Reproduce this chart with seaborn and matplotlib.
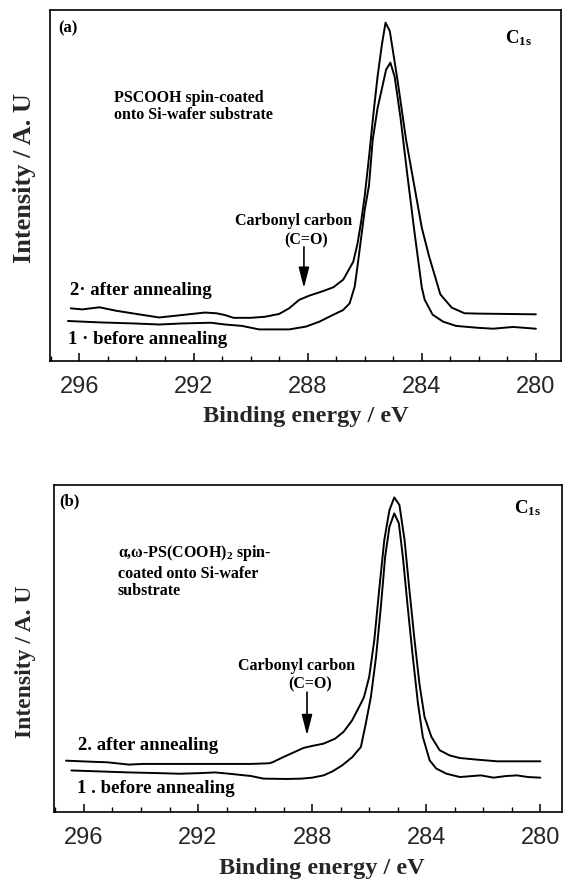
import numpy as np
import pandas as pd
import matplotlib
matplotlib.use("Agg")
import matplotlib.pyplot as plt
from matplotlib.ticker import MultipleLocator
import seaborn as sns

# ---------------- data ----------------
tick_values = [296, 292, 288, 284, 280]
tick_labels = ["296", "292", "288", "284", "280"]

# panel (a): PSCOOH
a_after_x = [296.3, 295.9, 295.3, 294.7, 294.0, 293.2, 292.4, 291.6, 291.2, 290.9, 290.6,
             290.0, 289.5, 289.0, 288.65, 288.3, 287.95, 287.5, 287.1, 286.75, 286.4,
             286.25, 286.12, 286.0, 285.85, 285.7, 285.55, 285.4, 285.27, 285.12, 284.85,
             284.55, 284.22, 284.0, 283.75, 283.35, 282.95, 282.5, 282.0, 281.0, 280.0]
a_after_y = [15.0, 14.7, 15.3, 14.3, 13.4, 12.4, 13.1, 13.8, 13.6, 13.1, 12.3,
             12.3, 12.6, 13.4, 15.0, 17.4, 18.6, 19.8, 21.0, 23.2, 28.3,
             33.5, 40.0, 47.0, 58.0, 70.0, 81.0, 90.0, 96.4, 94.0, 80.0,
             63.0, 48.0, 38.0, 30.0, 19.0, 15.2, 13.6, 13.5, 13.4, 13.3]

a_before_x = [296.4, 295.3, 294.1, 293.2, 292.4, 291.4, 290.9, 290.3, 289.7, 289.1, 288.65,
              288.06, 287.59, 287.12, 286.76, 286.53, 286.35, 286.24, 286.12, 286.0, 285.85,
              285.72, 285.55, 285.4, 285.25, 285.1, 284.95, 284.74, 284.52, 284.26, 284.0,
              283.9, 283.62, 283.25, 282.8, 282.1, 281.5, 280.8, 280.0]
a_before_y = [11.4, 11.0, 10.7, 10.4, 10.7, 10.9, 10.4, 10.0, 9.0, 9.0, 9.0,
              9.8, 11.2, 13.1, 14.5, 16.4, 21.2, 27.8, 35.4, 43.0, 50.0,
              63.0, 72.0, 77.5, 83.0, 85.0, 81.0, 69.0, 54.0, 37.0, 21.0,
              17.5, 13.2, 11.2, 10.0, 9.5, 9.2, 9.7, 9.2]

# panel (b): alpha,omega-PS(COOH)2
b_after_x = [296.63, 295.81, 295.18, 294.43, 293.92, 292.66, 291.40, 290.14, 289.51, 289.39,
             289.01, 288.63, 288.3, 288.0, 287.6, 287.2, 286.9, 286.6, 286.29, 286.18, 286.0,
             285.82, 285.65, 285.47, 285.29, 285.12, 284.94, 284.76, 284.59, 284.41, 284.24,
             284.06, 283.82, 283.53, 283.18, 282.82, 282.2, 281.51, 280.82, 280.0]
b_after_y = [15.7, 15.4, 15.2, 14.5, 14.7, 14.7, 14.7, 14.7, 14.9, 15.2,
             16.8, 18.3, 19.6, 20.2, 20.9, 22.4, 24.5, 28.0, 33.2, 35.2, 41.3,
             52.6, 67.9, 83.2, 92.3, 96.2, 93.9, 83.2, 67.9, 52.6, 39.3,
             29.1, 23.0, 18.9, 17.3, 16.5, 16.0, 15.5, 15.5, 15.5]

b_before_x = [296.44, 295.43, 294.43, 293.42, 292.66, 291.91, 291.40, 290.90, 290.14, 289.70,
              288.88, 288.38, 288.0, 287.6, 287.29, 286.94, 286.59, 286.29, 286.12, 285.94,
              285.76, 285.59, 285.44, 285.29, 285.12, 284.96, 284.82, 284.65, 284.47, 284.29,
              284.12, 283.88, 283.65, 283.29, 282.82, 282.08, 281.64, 281.20, 280.82, 280.44, 280.0]
b_before_y = [12.7, 12.4, 12.1, 11.9, 11.7, 11.9, 12.1, 11.7, 11.0, 10.2,
              10.1, 10.2, 10.5, 11.2, 12.4, 14.3, 16.8, 19.9, 27.0, 35.2,
              47.4, 62.8, 78.1, 87.2, 91.3, 88.3, 78.1, 62.8, 47.4, 33.2,
              23.0, 15.8, 13.3, 11.7, 10.7, 11.2, 10.5, 11.0, 11.2, 10.7, 10.5]

carbonyl_energy = 288.13

# ---------------- style ----------------
sns.set_style("white")
plt.rcParams["font.family"] = ["Liberation Serif", "DejaVu Serif"]
plt.rcParams["font.weight"] = "bold"
plt.rcParams["mathtext.fontset"] = "custom"
plt.rcParams["mathtext.rm"] = "Liberation Serif:bold"
plt.rcParams["mathtext.it"] = "Liberation Serif:bold"
plt.rcParams["mathtext.bf"] = "Liberation Serif:bold"

W, H = 563, 881
fig = plt.figure(figsize=(W / 100, H / 100), dpi=100)
ax_a = fig.add_axes([50 / W, 1 - 361 / H, 511 / W, 351 / H])
ax_b = fig.add_axes([54 / W, 1 - 812 / H, 508 / W, 327 / H])


def draw_panel(ax, ax_x, ay, bx, by, xlim, ylabel_size):
    df = pd.concat([
        pd.DataFrame({"E": ax_x, "I": ay, "s": "after"}),
        pd.DataFrame({"E": bx, "I": by, "s": "before"}),
    ])
    sns.lineplot(data=df, x="E", y="I", units="s", estimator=None,
                 color="black", lw=1.4, ax=ax, legend=False)
    ax.set_xlim(*xlim)
    ax.set_ylim(0, 100)
    ax.set_yticks([])
    ax.set_xticks(tick_values)
    ax.set_xticklabels(tick_labels, fontfamily="Liberation Sans",
                       fontweight="normal", fontsize=17)
    ax.xaxis.set_minor_locator(MultipleLocator(1))
    ax.tick_params(axis="x", which="major", direction="in", length=6,
                   width=1.1, color="black", pad=10.5, bottom=True)
    ax.tick_params(axis="x", which="minor", direction="in", length=3.5,
                   width=1.0, color="black", bottom=True)
    for sp in ax.spines.values():
        sp.set_visible(True)
        sp.set_color("black")
        sp.set_linewidth(1.2)
    ax.set_xlabel("Binding energy / eV", fontsize=17.5, fontweight="bold")
    ax.set_ylabel("Intensity / A. U", fontsize=ylabel_size, fontweight="bold")
    ax.xaxis.label.set_va("center")
    ax.yaxis.label.set_va("center")


draw_panel(ax_a, a_after_x, a_after_y, a_before_x, a_before_y, (297.03, 279.12), 19)
draw_panel(ax_b, b_after_x, b_after_y, b_before_x, b_before_y, (297.05, 279.24), 17)

ax_a.xaxis.set_label_coords(0.5, -0.157)
ax_a.yaxis.set_label_coords(-0.049, 0.521)
ax_b.xaxis.set_label_coords(0.528, -0.172)
ax_b.yaxis.set_label_coords(-0.056, 0.459)

tkw = dict(fontweight="bold", color="black")
arrow_style = "-|>,head_length=1.25,head_width=0.32"
# panel (a) annotations
ax_a.text(0.016, 0.948, "(a)", transform=ax_a.transAxes, fontsize=12, va="center", ha="left", **tkw)
ax_a.text(0.891, 0.919, r"C$_{\mathrm{1s}}$", transform=ax_a.transAxes, fontsize=13.5, va="center", ha="left", **tkw)
ax_a.text(0.126, 0.725, "PSCOOH spin-coated\nonto Si-wafer substrate", transform=ax_a.transAxes,
          fontsize=11.5, va="center", ha="left", linespacing=1.15, **tkw)
ax_a.text(0.476, 0.40, "Carbonyl carbon", transform=ax_a.transAxes, fontsize=11.5, va="center", ha="center", **tkw)
ax_a.text(0.502, 0.345, "(C=O)", transform=ax_a.transAxes, fontsize=11.5, va="center", ha="center", **tkw)
ax_a.text(0.040, 0.202, "2· after annealing", transform=ax_a.transAxes, fontsize=13.5, va="center", ha="left", **tkw)
ax_a.text(0.036, 0.062, "1 · before annealing", transform=ax_a.transAxes, fontsize=13.5, va="center", ha="left", **tkw)
ax_a.annotate("", xy=(carbonyl_energy, 20.0), xytext=(carbonyl_energy, 33.3),
              arrowprops=dict(arrowstyle=arrow_style, color="black", lw=1.2))

# panel (b) annotations
ax_b.text(0.010, 0.949, "(b)", transform=ax_b.transAxes, fontsize=12, va="center", ha="left", **tkw)
ax_b.text(0.905, 0.929, r"C$_{\mathrm{1s}}$", transform=ax_b.transAxes, fontsize=13.5, va="center", ha="left", **tkw)
ax_b.text(0.125, 0.792, r"α,ω-PS(COOH)$_{\mathrm{2}}$ spin-", transform=ax_b.transAxes,
          fontsize=11.5, va="center", ha="left", **tkw)
ax_b.text(0.125, 0.728, "coated onto Si-wafer", transform=ax_b.transAxes, fontsize=11.5, va="center", ha="left", **tkw)
ax_b.text(0.125, 0.675, "substrate", transform=ax_b.transAxes, fontsize=11.5, va="center", ha="left", **tkw)
ax_b.text(0.478, 0.447, "Carbonyl carbon", transform=ax_b.transAxes, fontsize=11.5, va="center", ha="center", **tkw)
ax_b.text(0.505, 0.391, "(C=O)", transform=ax_b.transAxes, fontsize=11.5, va="center", ha="center", **tkw)
ax_b.text(0.048, 0.203, "2. after annealing", transform=ax_b.transAxes, fontsize=13.5, va="center", ha="left", **tkw)
ax_b.text(0.045, 0.071, "1 . before annealing", transform=ax_b.transAxes, fontsize=13.5, va="center", ha="left", **tkw)
ax_b.annotate("", xy=(carbonyl_energy + 0.05, 22.6), xytext=(carbonyl_energy + 0.05, 37.5),
              arrowprops=dict(arrowstyle=arrow_style, color="black", lw=1.2))

fig.savefig("out.png", dpi=100)
